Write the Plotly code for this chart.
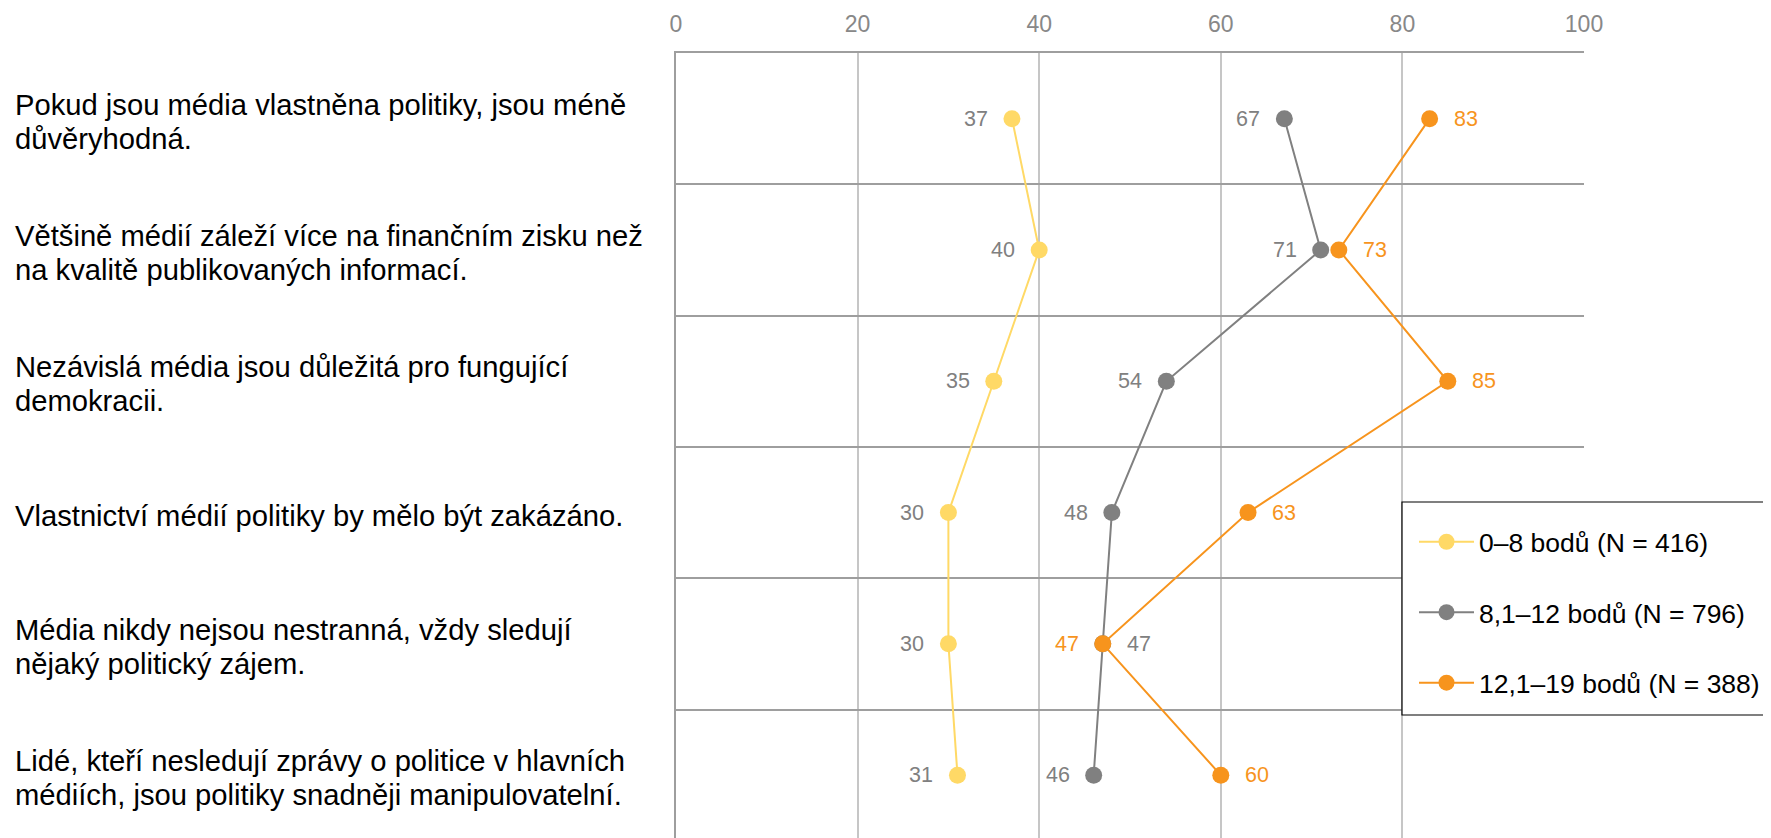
import plotly.graph_objects as go

# ---------------- data ----------------
statements = [
    "Pokud jsou média vlastněna politiky, jsou méně důvěryhodná.",
    "Většině médií záleží více na finančním zisku než na kvalitě publikovaných informací.",
    "Nezávislá média jsou důležitá pro fungující demokracii.",
    "Vlastnictví médií politiky by mělo být zakázáno.",
    "Média nikdy nejsou nestranná, vždy sledují nějaký politický zájem.",
    "Lidé, kteří nesledují zprávy o politice v hlavních médiích, jsou politiky snadněji manipulovatelní.",
]
statement_labels = [
    "Pokud jsou média vlastněna politiky, jsou méně<br>důvěryhodná.",
    "Většině médií záleží více na finančním zisku než<br>na kvalitě publikovaných informací.",
    "Nezávislá média jsou důležitá pro fungující<br>demokracii.",
    "Vlastnictví médií politiky by mělo být zakázáno.",
    "Média nikdy nejsou nestranná, vždy sledují<br>nějaký politický zájem.",
    "Lidé, kteří nesledují zprávy o politice v hlavních<br>médiích, jsou politiky snadněji manipulovatelní.",
]

series_names = ["0–8 bodů (N = 416)", "8,1–12 bodů (N = 796)", "12,1–19 bodů (N = 388)"]
low_values = [37, 40, 35, 30, 30, 31]
mid_values = [67, 71, 54, 48, 47, 46]
high_values = [83, 73, 85, 63, 47, 60]

# side of the value label relative to the marker
low_label_side = ["left", "left", "left", "left", "left", "left"]
mid_label_side = ["left", "left", "left", "left", "right", "left"]
high_label_side = ["right", "right", "right", "right", "left", "right"]

x_ticks = [0, 20, 40, 60, 80, 100]

# ---------------- styling ----------------
FONT = "Arial, 'Liberation Sans', sans-serif"
colors = ["#FFD966", "#808080", "#F7941D"]
label_colors = ["#808080", "#808080", "#F7941D"]

OFF = 8  # default page body margin
W, H = 1771 - OFF, 838 - OFF
ML, MT, MB = 676 - OFF, 53 - OFF, 0
MR = W - (1584 - OFF)
plot_w = W - ML - MR
plot_h = H - MT - MB
ROW_PX = 131.3
y_bottom = -0.5 + plot_h / ROW_PX  # bottom row is cut by the page edge


def px_x(screen_x):
    return (screen_x - OFF - ML) / plot_w


def px_y(screen_y):
    return 1 - (screen_y - OFF - MT) / plot_h


fig = go.Figure()
all_values = [low_values, mid_values, high_values]
all_sides = [low_label_side, mid_label_side, high_label_side]

for i, (name, vals) in enumerate(zip(series_names, all_values)):
    fig.add_trace(go.Scatter(
        x=vals, y=statements, name=name, mode="lines+markers",
        line=dict(color=colors[i], width=2),
        marker=dict(color=colors[i], size=17, line=dict(width=0)),
        legendgroup=f"g{i}", hoverinfo="skip",
    ))

annotations = []
for i, (vals, sides) in enumerate(zip(all_values, all_sides)):
    for v, s, side in zip(vals, statements, sides):
        annotations.append(dict(
            x=v, y=s, xref="x", yref="y", text=str(v), showarrow=False,
            xanchor="right" if side == "left" else "left",
            xshift=-22 if side == "left" else 22,
            font=dict(family=FONT, size=21.5, color=label_colors[i]),
        ))

LINE_GAP = 34
for s, lab in zip(statements, statement_labels):
    lines = lab.split("<br>")
    n = len(lines)
    for k, ln in enumerate(lines):
        annotations.append(dict(
            x=px_x(13), y=s, xref="paper", yref="y", text=ln,
            showarrow=False, xanchor="left", yanchor="middle", align="left",
            yshift=-((k - (n - 1) / 2) * LINE_GAP) - 3,
            font=dict(family=FONT, size=29.2, color="#000000"),
        ))

shapes = [dict(
    type="rect", xref="paper", yref="paper",
    x0=px_x(1402), x1=px_x(1770.5), y0=px_y(715), y1=px_y(502),
    line=dict(color="#000000", width=1.2), fillcolor="white", layer="above",
)]

fig.update_layout(
    width=W, height=H,
    margin=dict(l=ML, r=MR, t=MT, b=MB, pad=0),
    paper_bgcolor="white", plot_bgcolor="white",
    font=dict(family=FONT),
    annotations=annotations,
    shapes=shapes,
    showlegend=True,
    legend=dict(
        x=px_x(1414), y=px_y(518),
        xanchor="left", yanchor="top",
        bgcolor="rgba(0,0,0,0)", borderwidth=0,
        font=dict(family=FONT, size=26.5, color="#000000"),
        tracegroupgap=33, traceorder="grouped", itemwidth=55,
    ),
    xaxis=dict(
        range=[0, 100], side="top", tickmode="array", tickvals=x_ticks,
        ticktext=[str(t) for t in x_ticks],
        showgrid=True, gridcolor="#c6c6c6", gridwidth=1.5,
        showline=True, linecolor="#9e9e9e", linewidth=2,
        zeroline=False, ticks="", ticklabelstandoff=10,
        tickfont=dict(family=FONT, size=23, color="#888888"),
        fixedrange=True,
    ),
    yaxis=dict(
        type="category", categoryorder="array", categoryarray=statements,
        range=[y_bottom, -0.5], autorange=False, tickson="boundaries",
        showgrid=True, gridcolor="#9e9e9e", gridwidth=2,
        showline=True, linecolor="#9e9e9e", linewidth=2,
        showticklabels=False, ticks="", zeroline=False,
        fixedrange=True,
    ),
)

fig.write_html("out.html")
